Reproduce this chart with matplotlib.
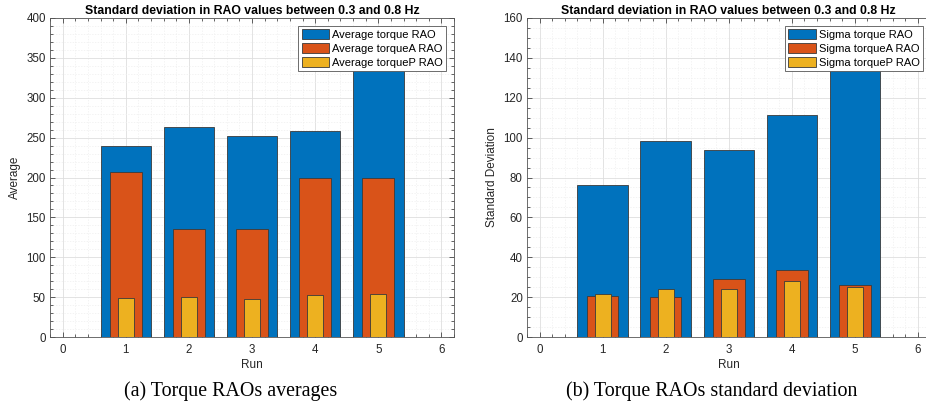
import matplotlib
matplotlib.use("Agg")
import matplotlib.pyplot as plt
import numpy as np
from matplotlib.ticker import MultipleLocator

plt.rcParams['font.family'] = ['Liberation Sans', 'DejaVu Sans']

# data
runs = [1, 2, 3, 4, 5]
avg_torque = [240, 263, 252, 258, 370]
avg_torqueA = [206.5, 136, 136, 200, 199]
avg_torqueP = [48.5, 49.7, 47.6, 53, 54.3]

sig_torque = [76.1, 98.5, 93.6, 111.3, 145]
sig_torqueA = [20.7, 19.9, 29.1, 33.4, 25.9]
sig_torqueP = [21.4, 23.9, 23.9, 28.1, 25.2]

labels_avg = ['Average torque RAO', 'Average torqueA RAO', 'Average torqueP RAO']
labels_sig = ['Sigma torque RAO', 'Sigma torqueA RAO', 'Sigma torqueP RAO']

colors = ['#0072BD', '#D95319', '#EDB120']
widths = [0.8, 0.5, 0.25]
title = 'Standard deviation in RAO values between 0.3 and 0.8 Hz'
text_col = '#262626'

fig = plt.figure(figsize=(9.26, 4.05), dpi=100)
ax1 = fig.add_axes([50 / 926, 68 / 405, 404 / 926, 319 / 405])
ax2 = fig.add_axes([527 / 926, 68 / 405, 403.5 / 926, 319 / 405])


def draw(ax, series, labels, ymax, ystep, yminor, ylabel):
    for vals, col, w, lab in zip(series, colors, widths, labels):
        ax.bar(runs, vals, width=w, color=col, edgecolor='#3a3a3a',
               linewidth=0.6, label=lab, zorder=2)
    ax.set_xlim(-0.2, 6.2)
    ax.set_ylim(0, ymax)
    ax.set_xticks(range(0, 7))
    ax.set_yticks(np.arange(0, ymax + 1, ystep))
    ax.xaxis.set_minor_locator(MultipleLocator(0.2))
    ax.yaxis.set_minor_locator(MultipleLocator(yminor))
    ax.set_axisbelow(True)
    ax.grid(True, which='major', color='#dedede', linewidth=0.6)
    ax.grid(True, which='minor', color='#efefef', linewidth=0.5, linestyle=(0, (2, 2)))
    ax.tick_params(which='both', direction='in', top=True, right=True,
                   colors=text_col, labelsize=8.3, width=0.5)
    ax.tick_params(which='major', length=3.5)
    ax.tick_params(axis='x', which='major', pad=5)
    ax.tick_params(axis='y', which='major', pad=3)
    ax.tick_params(which='minor', length=2)
    for s in ax.spines.values():
        s.set_color('#555555')
        s.set_linewidth(0.6)
    ax.set_xlabel('Run', fontsize=8.5, color=text_col, labelpad=2)
    ax.set_ylabel(ylabel, fontsize=8.5, color=text_col, labelpad=4)
    ax.set_title(title, fontsize=8.8, fontweight='bold', color='black', pad=3)
    leg = ax.legend(loc='upper right', fontsize=8, handlelength=2.5,
                    handleheight=1.0, handletextpad=0.25, labelspacing=0.28,
                    borderpad=0.3, borderaxespad=0.7, fancybox=False,
                    framealpha=1, edgecolor='#555555')
    leg.get_frame().set_linewidth(0.6)
    leg.set_zorder(5)


draw(ax1, [avg_torque, avg_torqueA, avg_torqueP], labels_avg, 400, 50, 10, 'Average')
draw(ax2, [sig_torque, sig_torqueA, sig_torqueP], labels_sig, 160, 20, 5, 'Standard Deviation')

fig.text(231 / 926, 1 - 391 / 405, '(a) Torque RAOs averages', ha='center', va='center',
         fontsize=14.4, family='Liberation Serif')
fig.text(712 / 926, 1 - 391 / 405, '(b) Torque RAOs standard deviation', ha='center',
         va='center', fontsize=14.4, family='Liberation Serif')

fig.savefig('out.png', dpi=100)
